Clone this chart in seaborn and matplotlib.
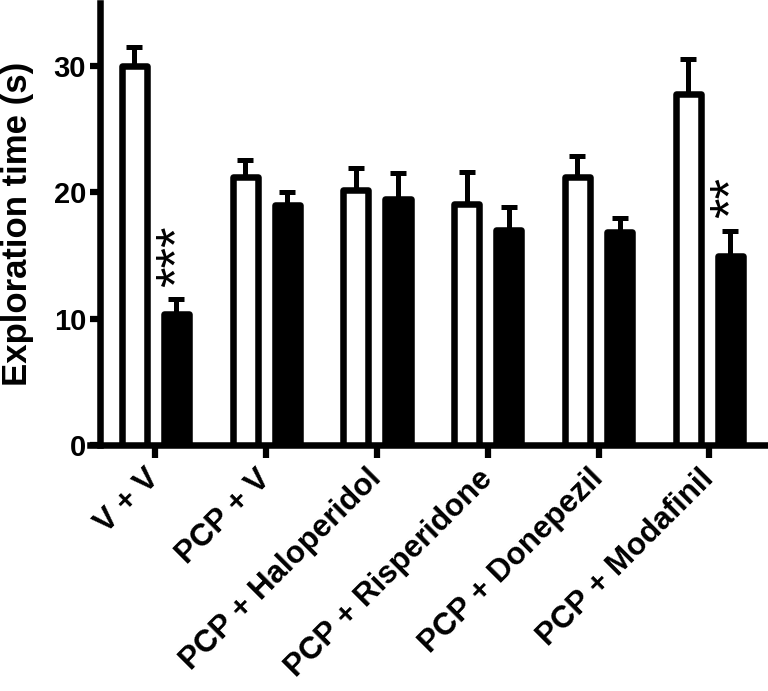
import numpy as np
import pandas as pd
import matplotlib
matplotlib.use("Agg")
import matplotlib.pyplot as plt
import seaborn as sns

groups = ["V + V", "PCP + V", "PCP + Haloperidol", "PCP + Risperidone",
          "PCP + Donepezil", "PCP + Modafinil"]
series = ["Open", "Filled"]
open_means = [30.0, 21.2, 20.2, 19.1, 21.2, 27.8]
open_sem = [1.5, 1.35, 1.75, 2.55, 1.7, 2.75]
filled_means = [10.4, 19.0, 19.5, 17.0, 16.9, 15.0]
filled_sem = [1.15, 1.0, 2.0, 1.85, 1.1, 1.95]
filled_stars = ["***", "", "", "", "", "**"]
yticks = [0, 10, 20, 30]
ylabel = "Exploration time (s)"

sns.set_style("ticks")
plt.rcParams["font.family"] = ["Liberation Sans", "DejaVu Sans"]
plt.rcParams["font.weight"] = "bold"
for k in ["text.color", "axes.labelcolor", "xtick.color", "ytick.color",
          "xtick.labelcolor", "ytick.labelcolor", "axes.edgecolor"]:
    plt.rcParams[k] = "black"

df = pd.DataFrame({
    "group": groups * 2,
    "series": [series[0]] * len(groups) + [series[1]] * len(groups),
    "time": open_means + filled_means,
})

fig = plt.figure(figsize=(7.68, 6.91), dpi=100)
ax = fig.add_axes([90 / 768, 1 - 445 / 691, (768 - 90) / 768, (445 - 3) / 691])

sns.barplot(data=df, x="group", y="time", hue="series", order=groups,
            hue_order=series, palette={"Open": "white", "Filled": "black"},
            edgecolor="black", linewidth=4.7, width=0.76, gap=0.405,
            errorbar=None, legend=False, ax=ax, zorder=3)

for p in ax.patches:
    p.set_joinstyle("round")
    xc = p.get_x() + p.get_width() / 2
    h = p.get_height()
    gi = int(round(xc))
    filled = xc > gi
    sem = (filled_sem if filled else open_sem)[gi]
    ax.errorbar(xc, h, yerr=[[0], [sem]], fmt="none", ecolor="black",
                elinewidth=3.6, capsize=6.0, capthick=3.6, zorder=2)
    if filled and filled_stars[gi]:
        ax.annotate(filled_stars[gi], xy=(xc, h + sem), xytext=(1, 9),
                    textcoords="offset points", rotation=90, ha="center",
                    va="bottom", fontsize=38, fontweight="normal",
                    color="black")

ax.set_xlim(-0.59, 5.53)
ax.set_ylim(0, 35)
ax.set_yticks(yticks)
ax.set_ylabel(ylabel, fontsize=25, fontweight="bold", color="black")
ax.yaxis.set_label_coords(-0.083, 0.5)
ax.set_xlabel("")

sns.despine(ax=ax)
ax.spines["left"].set_position(("data", -0.5))
for s in ["left", "bottom"]:
    ax.spines[s].set_linewidth(4.7)
    ax.spines[s].set_color("black")

ax.tick_params(axis="y", direction="out", length=7, width=4.5, labelsize=21,
               pad=3, color="black", labelcolor="black")
ax.tick_params(axis="x", direction="out", length=9, width=4.5, labelsize=22.5,
               pad=12, color="black", labelcolor="black")
for lab in ax.get_yticklabels():
    lab.set_fontweight("bold")
for lab in ax.get_xticklabels():
    lab.set_fontweight("bold")
    lab.set_rotation(45)
    lab.set_ha("right")
    lab.set_va("center")
    lab.set_rotation_mode("anchor")

fig.savefig("out.png", dpi=100)
